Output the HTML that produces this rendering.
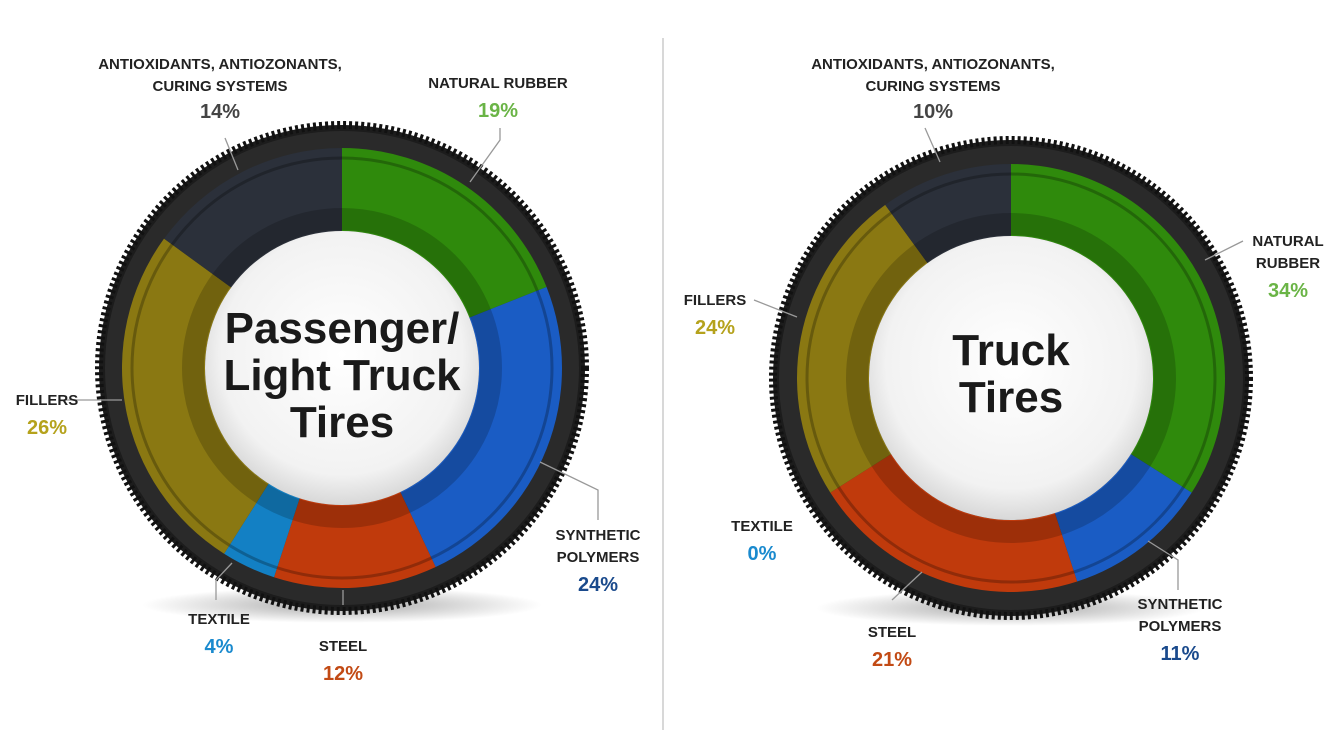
<!DOCTYPE html>
<html><head><meta charset="utf-8"><style>
html,body{margin:0;padding:0;background:#fff;}
svg{display:block;font-family:"Liberation Sans",sans-serif;}
.l{font-size:15px;font-weight:bold;fill:#222;}
.p{font-size:20px;font-weight:bold;}
.t{font-size:44px;font-weight:bold;fill:#1a1a1a;font-family:"Liberation Sans Narrow","Liberation Sans",sans-serif;}
</style></head><body>
<svg width="1340" height="754" viewBox="0 0 1340 754">
<defs>
<radialGradient id="sh" cx="50%" cy="50%" r="50%"><stop offset="0" stop-color="#000" stop-opacity=".35"/><stop offset="1" stop-color="#000" stop-opacity="0"/></radialGradient>
<radialGradient id="hub" cx="50%" cy="45%" r="55%"><stop offset="0" stop-color="#fff"/><stop offset=".8" stop-color="#f2f2f2"/><stop offset="1" stop-color="#d8d8d8"/></radialGradient>
</defs>
<line x1="663" y1="38" x2="663" y2="730" stroke="#ccc" stroke-width="1.5"/>
<ellipse cx="342" cy="605" rx="200" ry="18" fill="url(#sh)"/>
<ellipse cx="1011" cy="608" rx="195" ry="18" fill="url(#sh)"/>
<g id="T1"></g>
<g id="T2"></g>
<script>
function arc(cx,cy,r0,r1,a0,a1,col,g){
 const rad=a=>(a-90)*Math.PI/180;
 const p=(r,a)=>[cx+r*Math.cos(rad(a)),cy+r*Math.sin(rad(a))];
 const lg=(a1-a0)>180?1:0;
 const [x1,y1]=p(r1,a0),[x2,y2]=p(r1,a1),[x3,y3]=p(r0,a1),[x4,y4]=p(r0,a0);
 const e=document.createElementNS("http://www.w3.org/2000/svg","path");
 e.setAttribute("d",`M${x1} ${y1}A${r1} ${r1} 0 ${lg} 1 ${x2} ${y2}L${x3} ${y3}A${r0} ${r0} 0 ${lg} 0 ${x4} ${y4}Z`);
 e.setAttribute("fill",col);g.appendChild(e);
}
function circ(g,cx,cy,r,f,s,sw,da){
 const e=document.createElementNS("http://www.w3.org/2000/svg","circle");
 e.setAttribute("cx",cx);e.setAttribute("cy",cy);e.setAttribute("r",r);e.setAttribute("fill",f);
 if(s){e.setAttribute("stroke",s);e.setAttribute("stroke-width",sw);}
 if(da)e.setAttribute("stroke-dasharray",da);
 g.appendChild(e);
}
function tire(id,cx,cy,R,ro,ri,segs){
 const g=document.getElementById(id);
 circ(g,cx,cy,R,"#1c1c1c","#111",8,"3 3");
 circ(g,cx,cy,R-6,"#2a2a2a");
 let a=0;
 segs.forEach(s=>{arc(cx,cy,ri,ro,a,a+s[0]*3.6,s[1],g);a+=s[0]*3.6;});
 arc(cx,cy,ri,ro,a,360,segs[segs.length-1][1],g);
 circ(g,cx,cy,ro-10,"none","rgba(0,0,0,.25)",3);
 circ(g,cx,cy,ri+12,"none","rgba(0,0,0,.18)",22);
 circ(g,cx,cy,ri,"url(#hub)");
}
tire("T1",342,368,243,220,137,[[19,"#2f8a0c"],[24,"#1a5cc4"],[12,"#c03a0c"],[4,"#1380c4"],[26,"#8a7812"],[15,"#2b303a"]]);
tire("T2",1011,378,238,214,142,[[34,"#2f8a0c"],[11,"#1a5cc4"],[21,"#c03a0c"],[24,"#8a7812"],[10,"#2b303a"]]);
</script>
<g class="t" text-anchor="middle">
<text x="342" y="343">Passenger/</text><text x="342" y="390">Light Truck</text><text x="342" y="437">Tires</text>
<text x="1011" y="365">Truck</text><text x="1011" y="412">Tires</text>
</g>
<g fill="none" stroke="#999" stroke-width="1.3">
<polyline points="225,138 238,170"/><polyline points="500,128 500,140 470,182"/>
<polyline points="64,400 122,400"/><polyline points="540,462 598,490 598,520"/>
<polyline points="232,563 216,580 216,600"/><polyline points="343,590 343,605"/>
<polyline points="925,128 940,162"/><polyline points="1243,241 1205,260"/>
<polyline points="754,300 797,317"/><polyline points="1148,541 1178,560 1178,590"/>
<polyline points="922,572 892,600"/>
</g>
<g class="l" text-anchor="middle">
<text x="220" y="69">ANTIOXIDANTS, ANTIOZONANTS,</text><text x="220" y="91">CURING SYSTEMS</text>
<text class="p" x="220" y="118" fill="#444">14%</text>
<text x="498" y="88">NATURAL RUBBER</text><text class="p" x="498" y="117" fill="#6ab446">19%</text>
<text x="47" y="405">FILLERS</text><text class="p" x="47" y="434" fill="#b5a21c">26%</text>
<text x="598" y="540">SYNTHETIC</text><text x="598" y="562">POLYMERS</text><text class="p" x="598" y="591" fill="#1a4a8c">24%</text>
<text x="219" y="624">TEXTILE</text><text class="p" x="219" y="653" fill="#1a8ace">4%</text>
<text x="343" y="651">STEEL</text><text class="p" x="343" y="680" fill="#c24a14">12%</text>
<text x="933" y="69">ANTIOXIDANTS, ANTIOZONANTS,</text><text x="933" y="91">CURING SYSTEMS</text>
<text class="p" x="933" y="118" fill="#444">10%</text>
<text x="1288" y="246">NATURAL</text><text x="1288" y="268">RUBBER</text><text class="p" x="1288" y="297" fill="#6ab446">34%</text>
<text x="715" y="305">FILLERS</text><text class="p" x="715" y="334" fill="#b5a21c">24%</text>
<text x="762" y="531">TEXTILE</text><text class="p" x="762" y="560" fill="#1a8ace">0%</text>
<text x="1180" y="609">SYNTHETIC</text><text x="1180" y="631">POLYMERS</text><text class="p" x="1180" y="660" fill="#1a4a8c">11%</text>
<text x="892" y="637">STEEL</text><text class="p" x="892" y="666" fill="#c24a14">21%</text>
</g>
</svg>
</body></html>
